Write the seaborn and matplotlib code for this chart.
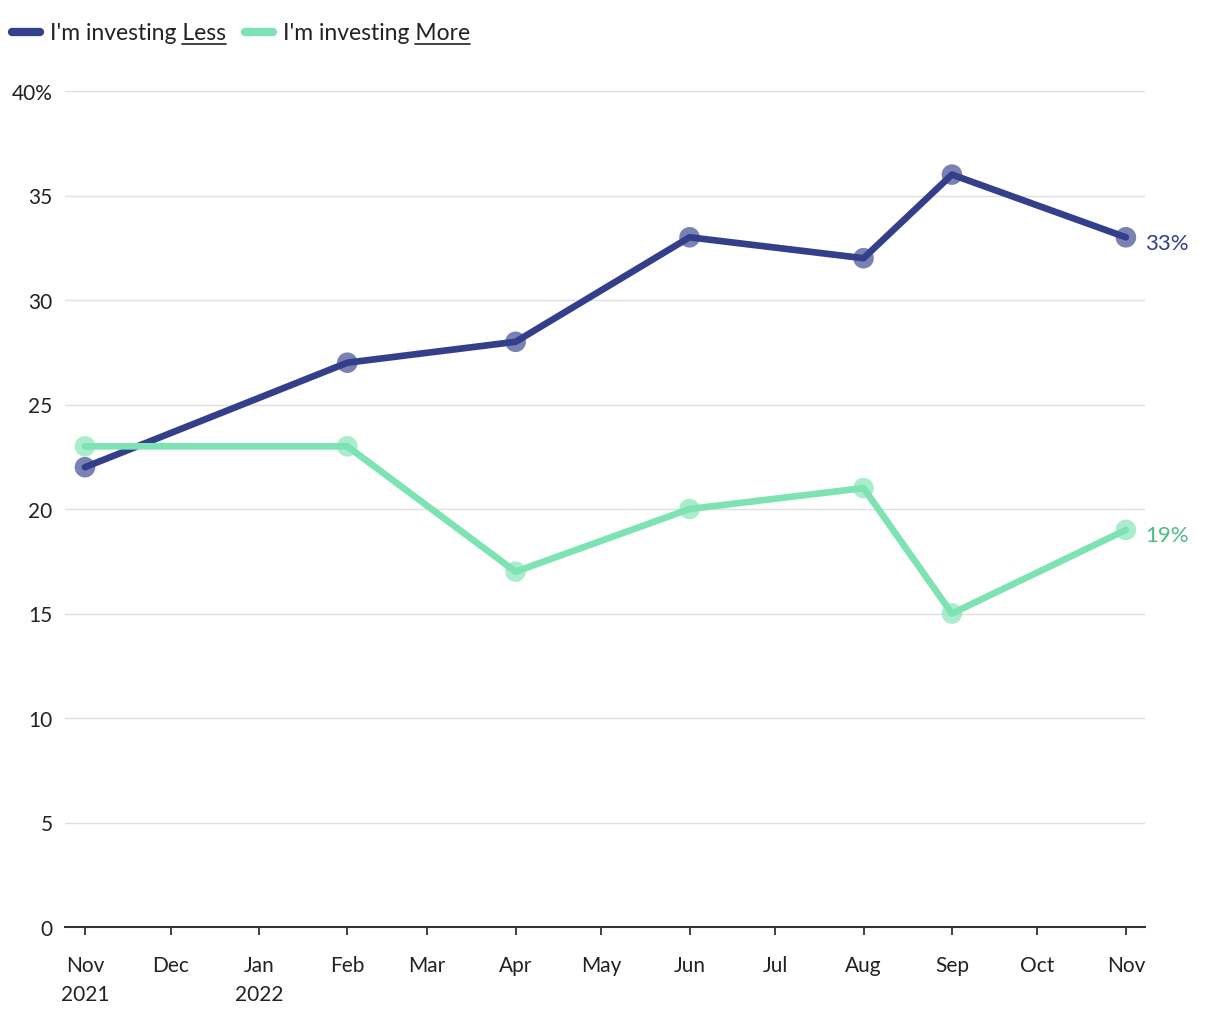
import matplotlib.pyplot as plt
import matplotlib.dates as mdates
from matplotlib.lines import Line2D
from matplotlib.ticker import FuncFormatter
import seaborn as sns
import pandas as pd

# Survey data (percent of respondents)
months = ["2021-11-01", "2022-02-01", "2022-04-01", "2022-06-01",
          "2022-08-01", "2022-09-01", "2022-11-01"]
less_vals = [22, 27, 28, 33, 32, 36, 33]
more_vals = [23, 23, 17, 20, 21, 15, 19]
series_names = ["I'm investing Less", "I'm investing More"]
underlined = ["Less", "More"]
y_ticks = [0, 5, 10, 15, 20, 25, 30, 35, 40]

navy = "#333f8a"
green = "#7ee3b2"
green_text = "#4dbb86"

sns.set_style("white")
plt.rcParams['font.family'] = ['Lato', 'DejaVu Sans']

df = pd.DataFrame({
    "date": pd.to_datetime(months * 2),
    "value": less_vals + more_vals,
    "series": [series_names[0]] * len(months) + [series_names[1]] * len(months),
})
palette = {series_names[0]: navy, series_names[1]: green}

fig = plt.figure(figsize=(12.2, 10.2), dpi=100)
ax = fig.add_axes([65 / 1220, 92 / 1020, 1080 / 1220, 836 / 1020])

# markers underneath, lines on top
sns.scatterplot(data=df, x="date", y="value", hue="series", palette=palette,
                s=220, alpha=0.65, linewidth=0, legend=False, ax=ax, zorder=2)
sns.lineplot(data=df, x="date", y="value", hue="series", palette=palette,
             linewidth=4.8, legend=False, ax=ax, zorder=3)

start = pd.Timestamp(months[0])
end = pd.Timestamp(months[-1])
ax.set_xlim(start - pd.Timedelta(days=7), end + pd.Timedelta(days=6.7))
ax.set_ylim(0, 40)

ax.xaxis.set_major_locator(mdates.MonthLocator())
def month_fmt(x, pos):
    d = mdates.num2date(x)
    lab = d.strftime("%b")
    if pos == 0 or d.month == 1:
        lab += "\n" + d.strftime("%Y")
    return lab
ax.xaxis.set_major_formatter(FuncFormatter(month_fmt))

ax.set_yticks(y_ticks)
ax.set_yticklabels([f"{v}%" if v == y_ticks[-1] else str(v) for v in y_ticks])

ax.grid(axis="y", color="#e0e0e0", linewidth=1)
ax.grid(axis="x", visible=False)
for s in ["top", "right", "left"]:
    ax.spines[s].set_visible(False)
ax.spines["bottom"].set_color("#333333")
ax.spines["bottom"].set_linewidth(1.5)
ax.tick_params(axis="x", length=6, width=1.3, color="#333333", pad=14,
               labelsize=15, labelcolor="#222222", bottom=True)
ax.tick_params(axis="y", length=0, pad=9, labelsize=15, labelcolor="#222222")
for t in ax.get_xticklabels():
    t.set_linespacing(1.55)
    t.set_verticalalignment("top")
ax.set_xlabel("")
ax.set_ylabel("")

# end labels
ax.annotate(f"{less_vals[-1]}%", (end, less_vals[-1]), xytext=(14, -4),
            textcoords="offset points", va="center", ha="left",
            fontsize=16, color=navy)
ax.annotate(f"{more_vals[-1]}%", (end, more_vals[-1]), xytext=(14, -4),
            textcoords="offset points", va="center", ha="left",
            fontsize=16, color=green_text)

# legend with underlined words
W, H = 1220, 1020
legend_items = [(12, 40, 50, navy), (245, 273, 283, green)]
fig.canvas.draw()
renderer = fig.canvas.get_renderer()
for (x0, x1, tx, col), name, word in zip(legend_items, series_names, underlined):
    yl = 1 - 33 / H
    fig.add_artist(Line2D([x0 / W, x1 / W], [yl, yl], color=col, linewidth=6,
                          solid_capstyle="round", transform=fig.transFigure))
    t = fig.text(tx / W, yl, name, fontsize=16.5, color="#222222",
                 va="center", ha="left")
    full = t.get_window_extent(renderer)
    tmp = fig.text(0, 0, word, fontsize=16.5)
    ww = tmp.get_window_extent(renderer).width
    tmp.remove()
    uy = (full.y0 - 1) / H
    fig.add_artist(Line2D([(full.x1 - ww) / W, full.x1 / W], [uy, uy],
                          color="#222222", linewidth=1.2,
                          transform=fig.transFigure))

fig.savefig("out.png", dpi=100)
